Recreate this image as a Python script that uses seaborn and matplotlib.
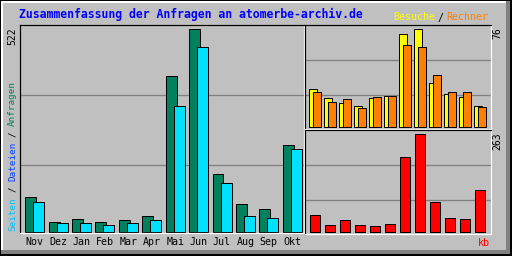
import numpy as np
import pandas as pd
import matplotlib
matplotlib.use("Agg")
import matplotlib.pyplot as plt
from matplotlib.patches import Rectangle
import seaborn as sns

# ---------------- data ----------------
months = ["Nov", "Dez", "Jan", "Feb", "Mar", "Apr", "Mai", "Jun", "Jul", "Aug", "Sep", "Okt"]
anfragen = [90, 27, 33, 27, 31, 41, 401, 522, 149, 73, 59, 224]
seiten = [77, 23, 23, 18, 23, 31, 324, 476, 126, 41, 36, 213]
besuche = [30, 22.5, 18.5, 16.3, 22.5, 24, 72, 76, 34, 25.5, 23.3, 16.3]
rechner = [27, 19.4, 21.7, 14.7, 23.3, 24, 63.6, 62, 40.3, 27, 27, 15.5]
kb = [45.6, 18.8, 32, 18.8, 16, 21.5, 201, 263, 80.5, 37.6, 35, 112.7]
max_main, max_visits, max_kb = "522", "76", "263"

title = "Zusammenfassung der Anfragen an atomerbe-archiv.de"

# ---------------- style ----------------
GREY = "#C0C0C0"
DGREY = "#808080"
GREEN = "#00805C"
CYAN = "#00E0FF"
BLUE = "#0040FF"
YELLOW = "#FFFF00"
ORANGE = "#FF8000"
RED = "#FF0000"
MONO = "DejaVu Sans Mono"
PX = 0.72  # 1 px in points at dpi 100

sns.set_theme(style="white")
plt.rcParams["font.family"] = [MONO, "DejaVu Sans"]

W, H = 512, 256
fig = plt.figure(figsize=(W / 100, H / 100), dpi=100, facecolor=GREY)


def fx(px):
    return px / W


def fy(py):
    return 1 - py / H


def rect(x0, y0, x1, y1, color):
    fig.add_artist(Rectangle((fx(x0), fy(y1)), fx(x1) - fx(x0), fy(y0) - fy(y1),
                             transform=fig.transFigure, facecolor=color,
                             edgecolor="none", zorder=0))


# outer 3D frame
rect(0, 0, 512, 256, "black")
rect(1, 1, 510, 254, DGREY)
rect(1, 1, 506, 250, "white")
rect(3, 3, 506, 250, GREY)


def make_axes(x0, y0, x1, y1):
    ax = fig.add_axes([fx(x0), fy(y1), fx(x1) - fx(x0), fy(y0) - fy(y1)])
    ax.set_facecolor(GREY)
    for side in ["top", "left"]:
        ax.spines[side].set_color("black")
    for side in ["bottom", "right"]:
        ax.spines[side].set_color("white")
    for s in ax.spines.values():
        s.set_linewidth(1.2 * PX)
        s.set_visible(True)
    ax.set_axisbelow(True)
    return ax


def bars(ax, values, offset, width, color):
    pos = np.arange(len(months)) + offset
    df = pd.DataFrame({"pos": pos, "val": values})
    sns.barplot(data=df, x="pos", y="val", ax=ax, native_scale=True, width=width,
                color=color, saturation=1, edgecolor="black", linewidth=PX,
                errorbar=None)


# main panel
ax = make_axes(20, 25, 304, 233)
bars(ax, anfragen, -0.171, 0.47, GREEN)
bars(ax, seiten, 0.171, 0.47, CYAN)
ax.set_xlim(-0.632, 11.504)
ax.set_ylim(-1.8, 533)
ax.set_yticks([173, 353])
ax.yaxis.grid(True, color=DGREY, linewidth=1.3 * PX)
ax.set_yticklabels([])
ax.set_xticks(np.arange(len(months)))
ax.set_xticklabels(months, fontsize=7.2, family=MONO, color="black")
ax.tick_params(axis="both", length=0)
ax.tick_params(axis="x", pad=3)
ax.set_xlabel("")
ax.set_ylabel("")

# visits / sites panel
ax2 = make_axes(305, 25, 491, 129)
bars(ax2, besuche, -0.133, 0.533, YELLOW)
bars(ax2, rechner, 0.133, 0.533, ORANGE)
ax2.set_xlim(-0.667, 11.733)
ax2.set_ylim(-1.3, 79.3)
ax2.set_yticks([24.8, 52])
ax2.yaxis.grid(True, color=DGREY, linewidth=1.3 * PX)
ax2.set_xticks([])
ax2.set_yticklabels([])
ax2.tick_params(axis="both", length=0)
ax2.set_xlabel("")
ax2.set_ylabel("")

# kb panel
ax3 = make_axes(305, 130, 491, 234.3)
bars(ax3, kb, 0.0, 0.62, RED)
ax3.set_xlim(-0.667, 11.733)
ax3.set_ylim(-5.4, 274.5)
ax3.set_yticks([86, 180.6])
ax3.yaxis.grid(True, color=DGREY, linewidth=1.3 * PX)
ax3.set_xticks([])
ax3.set_yticklabels([])
ax3.tick_params(axis="both", length=0)
ax3.set_xlabel("")
ax3.set_ylabel("")

# ---------------- texts ----------------
fig.text(fx(19.3), fy(14.5), title, color="#0000FF", fontsize=8.3,
         fontweight="bold", family=MONO, ha="left", va="center")

fig.text(fx(393), fy(17.5), "Besuche", color=YELLOW, fontsize=7.2, family=MONO,
         ha="left", va="center")
fig.text(fx(440.5), fy(17.5), "/", color="black", fontsize=7.2, family=MONO,
         ha="center", va="center")
fig.text(fx(446.5), fy(17.5), "Rechner", color=ORANGE, fontsize=7.2, family=MONO,
         ha="left", va="center")

# left rotated labels
cw = 5.55
ybase = 231
lx = fx(12.7)
fig.text(lx, fy(27), max_main, rotation=90, fontsize=7.0, family=MONO,
         color="black", ha="center", va="top")
fig.text(lx, fy(ybase), "Seiten", rotation=90, fontsize=6.7, family=MONO,
         color="#00C0FF", ha="center", va="bottom")
fig.text(lx, fy(ybase - 7.5 * cw), "/", rotation=90, fontsize=6.7, family=MONO,
         color="black", ha="center", va="center")
fig.text(lx, fy(ybase - 9 * cw), "Dateien", rotation=90, fontsize=6.7, family=MONO,
         color=BLUE, ha="center", va="bottom")
fig.text(lx, fy(ybase - 17.5 * cw), "/", rotation=90, fontsize=6.7, family=MONO,
         color="black", ha="center", va="center")
fig.text(lx, fy(ybase - 19 * cw), "Anfragen", rotation=90, fontsize=6.7, family=MONO,
         color=GREEN, ha="center", va="bottom")

# right rotated labels
rx = fx(497.5)
fig.text(rx, fy(27), max_visits, rotation=90, fontsize=7.0, family=MONO,
         color="black", ha="center", va="top")
fig.text(rx, fy(132), max_kb, rotation=90, fontsize=7.0, family=MONO,
         color="black", ha="center", va="top")
fig.text(fx(490), fy(243), "kb", color=RED, fontsize=7.2, family=MONO,
         ha="right", va="center")

fig.savefig("out.png", dpi=100, facecolor=GREY)
